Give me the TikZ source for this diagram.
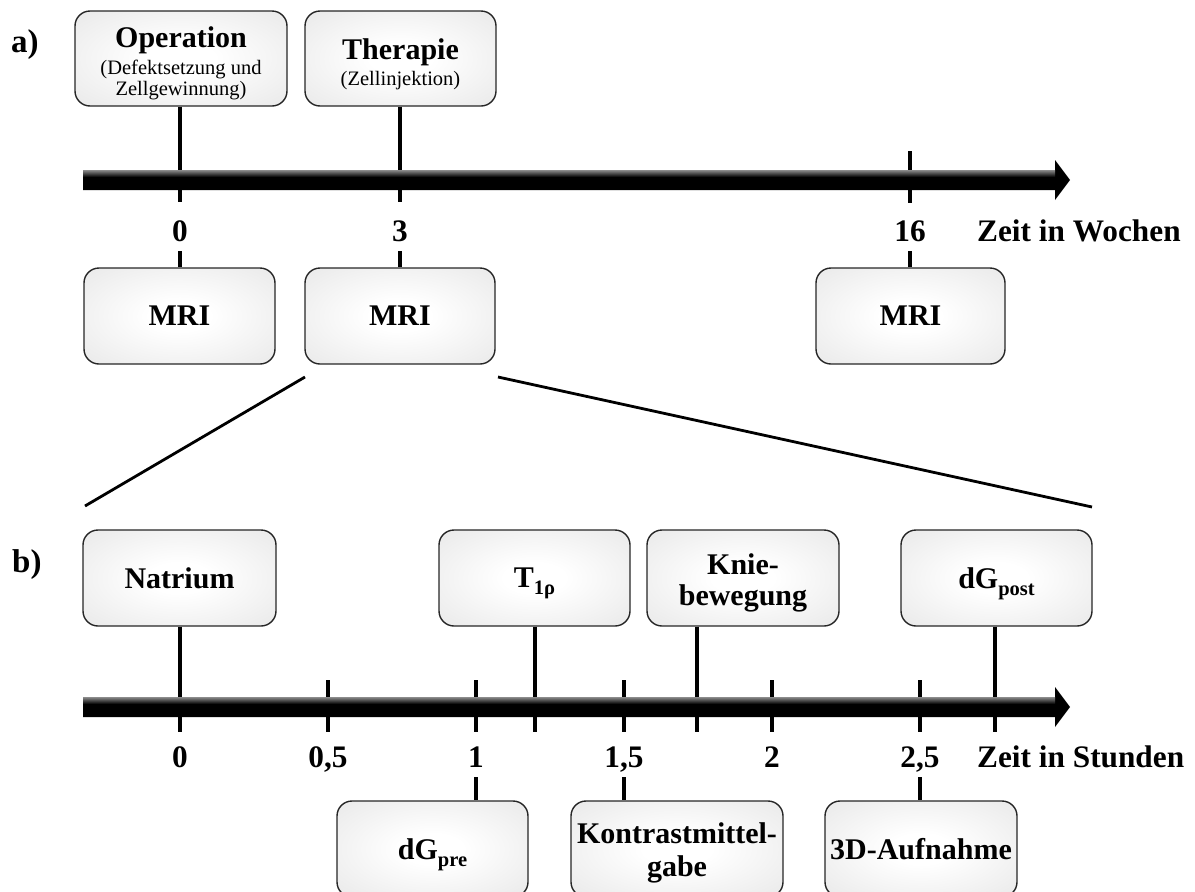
\documentclass[tikz,border=0pt]{standalone}
\usepackage{fontspec}
\setmainfont{Liberation Serif}
\usetikzlibrary{calc}

% soft glow inside the event boxes
\pgfdeclareradialshading{boxglow}{\pgfpoint{0bp}{0bp}}{%
  color(0bp)=(white); color(8bp)=(white); color(50bp)=(black!13); color(80bp)=(black!15)}

\tikzset{
  evbox/.style={draw=black!85, line width=1.4pt, rounded corners=15pt,
    shading=boxglow, minimum height=96pt, inner sep=0pt, align=center,
    font=\fontsize{30}{32}\selectfont\bfseries},
  ticktall/.style={line width=4.6pt},
  zoomline/.style={line width=2.8pt},
  axlabel/.style={font=\fontsize{31.3}{33}\selectfont\bfseries, inner sep=0pt, anchor=base},
  partlabel/.style={font=\fontsize{33}{33}\selectfont\bfseries, inner sep=0pt, anchor=base west},
}

% thick time axis with arrow head, centred on the given y
\newcommand\timeaxis[1]{%
  \fill[black] (83,{#1-10}) -- (1055,{#1-10}) -- (1055,{#1-20}) -- (1070,#1)
    -- (1055,{#1+20}) -- (1055,{#1+10}) -- (83,{#1+10}) -- cycle;
  \shade[top color=black!45, bottom color=black] (83,{#1-10}) rectangle (1055,{#1-3});
}
% lowered subscript that does not change the line's depth
\newcommand\subtxt[1]{\raisebox{-7pt}[0pt][0pt]{\fontsize{20.5}{20.5}\selectfont #1}}
\newcommand\upstrut[1]{\rule{0pt}{#1}}

\begin{document}
\begin{tikzpicture}[x=1pt, y=-1pt]
\useasboundingbox (0,0) rectangle (1195,892);

% ---------- a) weeks ----------
\node[partlabel] (la) at (11,52) {a)};

\node[evbox, minimum width=212pt, minimum height=95pt] (op) at (181,58.5)
  {\upstrut{30.5pt}Operation\\[-5pt]{\fontsize{20.5}{21}\mdseries\selectfont (Defektsetzung und}\\[-11pt]{\fontsize{20.5}{21}\mdseries\selectfont Zellgewinnung)}};
\node[evbox, minimum width=191pt, minimum height=95pt] (ther) at (400.5,58.5)
  {\upstrut{32.5pt}Therapie\\[-6pt]{\fontsize{20.5}{21}\mdseries\selectfont (Zellinjektion)}};

\node[evbox, minimum width=191pt] (mri1) at (179.5,316) {MRI};
\node[evbox, minimum width=190pt] (mri2) at (400,316) {MRI};
\node[evbox, minimum width=189pt] (mri3) at (910.5,316) {MRI};

\node[axlabel] (w0) at (180,241) {0};
\node[axlabel] (w3) at (400,241) {3};
\node[axlabel] (w16) at (910,241) {16};
\node[axlabel, anchor=base west] (wz) at (977,241) {Zeit in Wochen};

\coordinate (a0) at (180,202);
\coordinate (a3) at (400,202);
\coordinate (a16) at (910,203);
\coordinate (a16t) at (910,151);

\draw[ticktall] (op.south -| a0) -- (a0);
\draw[ticktall] (ther.south -| a3) -- (a3);
\draw[ticktall] (a16t) -- (a16);
\draw[ticktall] (180,251) -- (mri1.north -| a0);
\draw[ticktall] (400,251) -- (mri2.north -| a3);
\draw[ticktall] (910,251) -- (mri3.north -| a16);

\timeaxis{180}

% zoom from the MRI session at week 3
\coordinate (zl1) at (305,377);
\coordinate (zl2) at (85,506);
\coordinate (zr1) at (498,377);
\coordinate (zr2) at (1092,507);
\draw[zoomline] (zl1) -- (zl2);
\draw[zoomline] (zr1) -- (zr2);

% ---------- b) hours ----------
\node[partlabel] (lb) at (12,572) {b)};

\node[evbox, minimum width=193pt] (nat) at (179.5,578) {Natrium};
\node[evbox, minimum width=191pt] (t1r) at (534.5,578) {T\subtxt{1ρ}};
\node[evbox, minimum width=192pt] (knie) at (743,578) {\upstrut{30.5pt}Knie-\\[-1pt]bewegung};
\node[evbox, minimum width=191pt] (dgpost) at (996.5,578) {dG\subtxt{post}};

\node[evbox, minimum width=191pt] (dgpre) at (432.5,849) {dG\subtxt{pre}};
\node[evbox, minimum width=212pt] (kontr) at (677,849) {\upstrut{28.5pt}Kontrastmittel-\\[1pt]gabe};
\node[evbox, minimum width=192pt] (aufn) at (921,849) {3D-Aufnahme};

\node[axlabel] (h0) at (180,767) {0};
\node[axlabel] (h05) at (328,767) {0,5};
\node[axlabel] (h1) at (476,767) {1};
\node[axlabel] (h15) at (624,767) {1,5};
\node[axlabel] (h2) at (772,767) {2};
\node[axlabel] (h25) at (920,767) {2,5};
\node[axlabel, anchor=base west] (hz) at (977,767) {Zeit in Stunden};

\coordinate (b0) at (180,732);
\coordinate (b05) at (328,732);
\coordinate (b1) at (476,732);
\coordinate (b12) at (535,732);
\coordinate (b15) at (624,732);
\coordinate (b175) at (697,732);
\coordinate (b2) at (772,732);
\coordinate (b25) at (920,732);
\coordinate (b275) at (995,732);

\draw[ticktall] (nat.south -| b0) -- (b0);
\draw[ticktall] (t1r.south -| b12) -- (b12);
\draw[ticktall] (knie.south -| b175) -- (b175);
\draw[ticktall] (dgpost.south -| b275) -- (b275);
\foreach \c in {b05,b1,b15,b2,b25}
  \draw[ticktall] (\c) ++(0,-52) -- (\c);

\draw[ticktall] (476,777) -- (dgpre.north -| b1);
\draw[ticktall] (624,777) -- (kontr.north -| b15);
\draw[ticktall] (920,777) -- (aufn.north -| b25);

\timeaxis{707}
\end{tikzpicture}
\end{document}
